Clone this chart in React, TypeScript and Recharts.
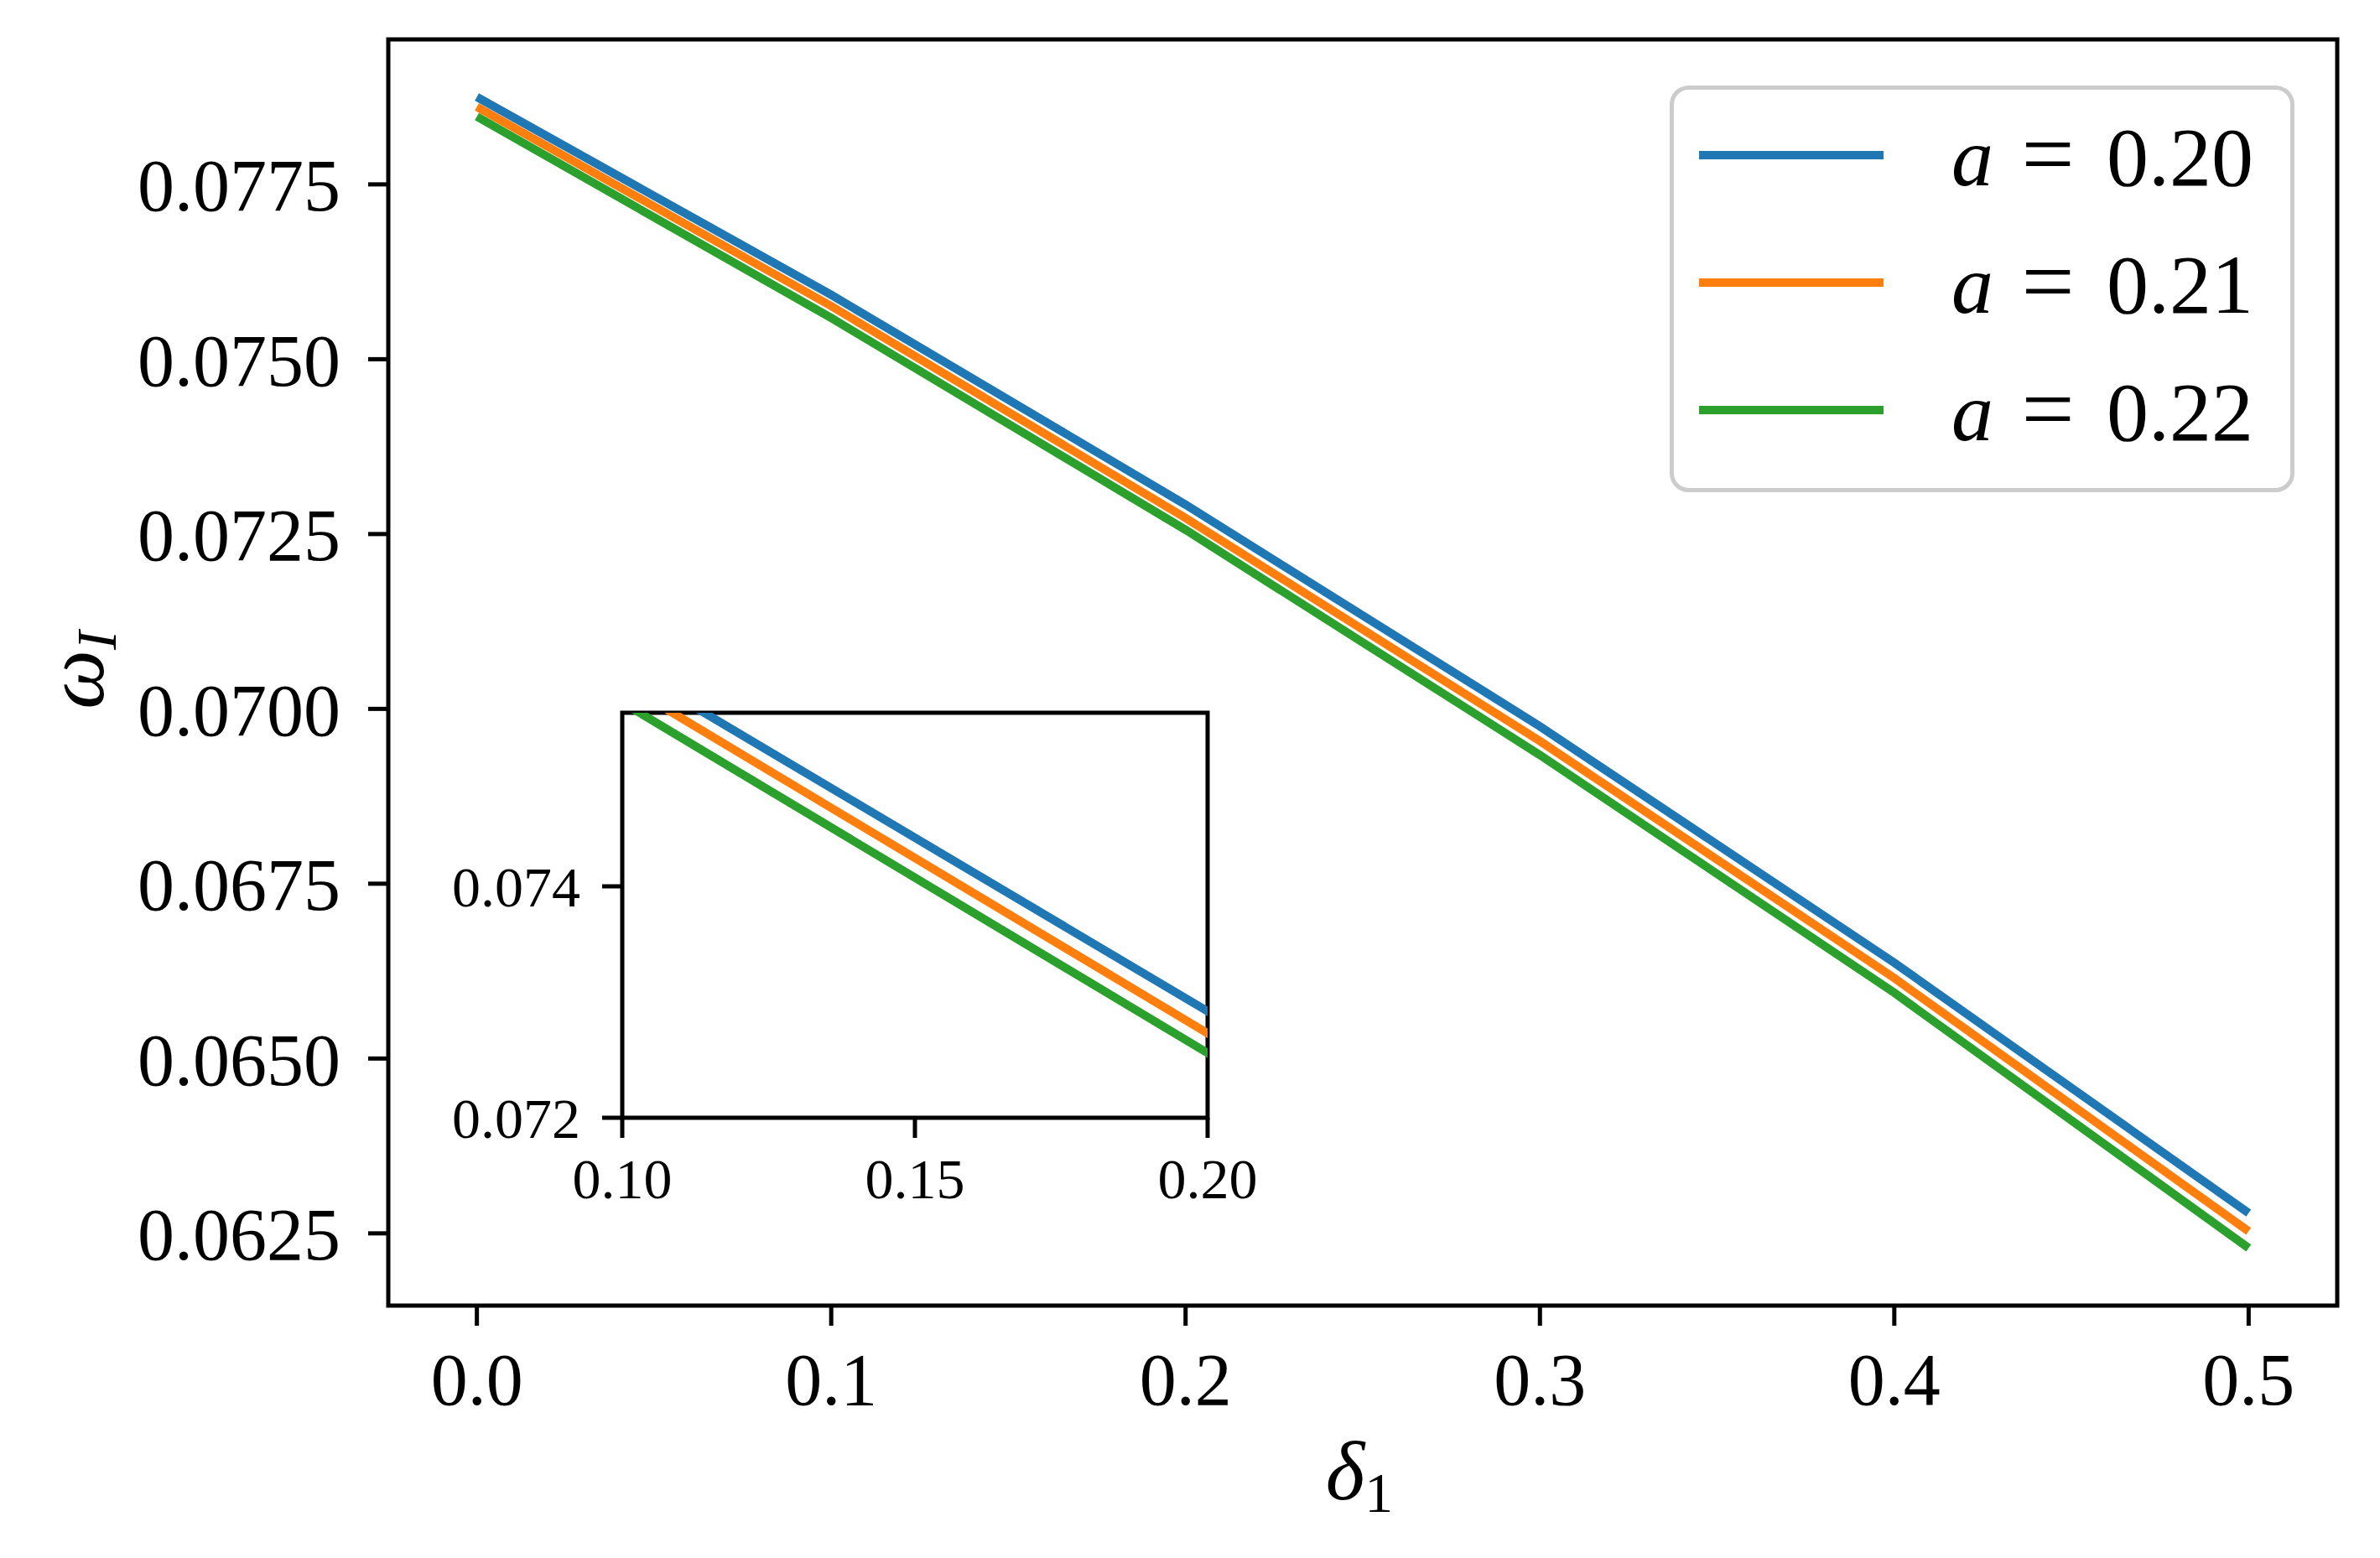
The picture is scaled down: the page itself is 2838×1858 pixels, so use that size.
import { LineChart, Line, XAxis, YAxis, ReferenceArea, Legend } from "recharts"

// δ1 sweep, ω_I for three values of a
const delta1 = [0, 0.1, 0.2, 0.3, 0.4, 0.5]
const omegaA020 = [0.07875, 0.07592, 0.07292, 0.06975, 0.06637, 0.06279]
const omegaA021 = [0.07861, 0.07576, 0.07273, 0.06954, 0.06615, 0.06253]
const omegaA022 = [0.07847, 0.07559, 0.07256, 0.06934, 0.06594, 0.06229]
const aValues = ["0.20", "0.21", "0.22"]
const seriesKeys = ["a20", "a21", "a22"]
const seriesColors = ["#1f77b4", "#ff7f0e", "#2ca02c"]

const xTicks = [0, 0.1, 0.2, 0.3, 0.4, 0.5]
const yTicks = [0.0625, 0.065, 0.0675, 0.07, 0.0725, 0.075, 0.0775]
const insetXTicks = [0.1, 0.15, 0.2]
const insetYTicks = [0.072, 0.074]
const insetXDomain = [0.1, 0.2]
const insetYDomain = [0.072, 0.0755]

const data = delta1.map((d, i) => ({
  d,
  a20: omegaA020[i],
  a21: omegaA021[i],
  a22: omegaA022[i],
}))

// matplotlib-style 5% margins
const allY = [...omegaA020, ...omegaA021, ...omegaA022]
const yLo = Math.min(...allY)
const yHi = Math.max(...allY)
const yPad = (yHi - yLo) * 0.05
const yDomain = [yLo - yPad, yHi + yPad]
const xPad = (delta1[delta1.length - 1] - delta1[0]) * 0.05
const xDomain = [delta1[0] - xPad, delta1[delta1.length - 1] + xPad]

const FONT = "'Liberation Serif', 'DejaVu Serif', serif"
const tickLine = { stroke: "#000", strokeWidth: 5 }

const renderXLabel = (props: any) => {
  const vb = props.viewBox
  const cx = vb.x + vb.width / 2 - 4
  const y = vb.y + 231
  return (
    <text x={cx} y={y} textAnchor="middle" fontFamily={FONT} fontSize={100} fill="#000">
      <tspan fontStyle="italic">δ</tspan>
      <tspan fontSize={68} dy={15}>1</tspan>
    </text>
  )
}

const renderYLabel = (props: any) => {
  const vb = props.viewBox
  const x = vb.x + 100
  const y = vb.y + vb.height / 2 - 3
  return (
    <text x={x} y={y} transform={`rotate(-90, ${x}, ${y})`} textAnchor="middle" fontFamily={FONT} fontSize={100} fill="#000">
      <tspan fontStyle="italic">ω</tspan>
      <tspan fontStyle="italic" fontSize={68} dy={15}>I</tspan>
    </text>
  )
}

const renderLegend = () => (
  <svg width={745} height={485} style={{ display: "block" }}>
    <rect x={2.5} y={2.5} width={740} height={480} rx={20} fill="#fff" fillOpacity={0.8} stroke="#cccccc" strokeWidth={5} />
    {aValues.map((v, i) => {
      const base = 119 + i * 152
      return (
        <g key={v}>
          <line x1={35} x2={255} y1={base - 36} y2={base - 36} stroke={seriesColors[i]} strokeWidth={10} />
          <text fontFamily={FONT} fontSize={100} fill="#000" y={base}>
            <tspan x={336} fontStyle="italic">a</tspan>
          </text>
          <text fontFamily={FONT} fontSize={112} fill="#000" x={451} y={base} textAnchor="middle">=</text>
          <text fontFamily={FONT} fontSize={100} fill="#000" x={696} y={base} textAnchor="end">{v}</text>
        </g>
      )
    })}
  </svg>
)

export default function App() {
  return (
    <div style={{ position: "absolute", left: 0, top: 0, width: 2838, height: 1858, background: "#fff" }}>
      <LineChart width={2838} height={1858} data={data} margin={{ top: 47, right: 51, bottom: 61, left: 23 }}>
        <XAxis
          dataKey="d"
          type="number"
          domain={xDomain}
          allowDataOverflow
          ticks={xTicks}
          interval={0}
          tickFormatter={(v) => Number(v).toFixed(1)}
          tickSize={24}
          tickMargin={32}
          axisLine={false}
          tickLine={tickLine}
          tick={{ fill: "#000", fontSize: 88, fontFamily: FONT }}
          height={240}
          label={renderXLabel}
        />
        <YAxis
          type="number"
          domain={yDomain}
          allowDataOverflow
          ticks={yTicks}
          interval={0}
          tickFormatter={(v) => Number(v).toFixed(4)}
          tickSize={24}
          tickMargin={33}
          axisLine={false}
          tickLine={tickLine}
          tick={{ fill: "#000", fontSize: 88, fontFamily: FONT }}
          width={440}
          label={renderYLabel}
        />
        <ReferenceArea x1={xDomain[0]} x2={xDomain[1]} y1={yDomain[0]} y2={yDomain[1]} fill="none" stroke="#000" strokeWidth={5} />
        {seriesKeys.map((k, i) => (
          <Line key={k} dataKey={k} stroke={seriesColors[i]} strokeWidth={10} dot={false} activeDot={false} isAnimationActive={false} type="linear" />
        ))}
        <Legend
          layout="vertical"
          align="center"
          verticalAlign="middle"
          content={renderLegend}
          wrapperStyle={{ left: 1991, top: 102, width: 745, height: 485 }}
        />
      </LineChart>

      <div style={{ position: "absolute", left: 500, top: 800 }}>
        <LineChart width={1000} height={700} data={data} margin={{ top: 50, right: 60, bottom: 47, left: 0 }}>
          <XAxis
            dataKey="d"
            type="number"
            domain={insetXDomain}
            allowDataOverflow
            ticks={insetXTicks}
            interval={0}
            tickFormatter={(v) => Number(v).toFixed(2)}
            tickSize={24}
            tickMargin={24}
            axisLine={false}
            tickLine={tickLine}
            tick={{ fill: "#000", fontSize: 68, fontFamily: FONT }}
            height={120}
          />
          <YAxis
            type="number"
            domain={insetYDomain}
            allowDataOverflow
            ticks={insetYTicks}
            interval={0}
            tickFormatter={(v) => Number(v).toFixed(3)}
            tickSize={24}
            tickMargin={26}
            axisLine={false}
            tickLine={tickLine}
            tick={{ fill: "#000", fontSize: 68, fontFamily: FONT }}
            width={242}
          />
          {seriesKeys.map((k, i) => (
            <Line key={k} dataKey={k} stroke={seriesColors[i]} strokeWidth={10} dot={false} activeDot={false} isAnimationActive={false} type="linear" />
          ))}
          <ReferenceArea x1={insetXDomain[0]} x2={insetXDomain[1]} y1={insetYDomain[0]} y2={insetYDomain[1]} fill="none" stroke="#000" strokeWidth={5} />
        </LineChart>
      </div>
    </div>
  )
}
